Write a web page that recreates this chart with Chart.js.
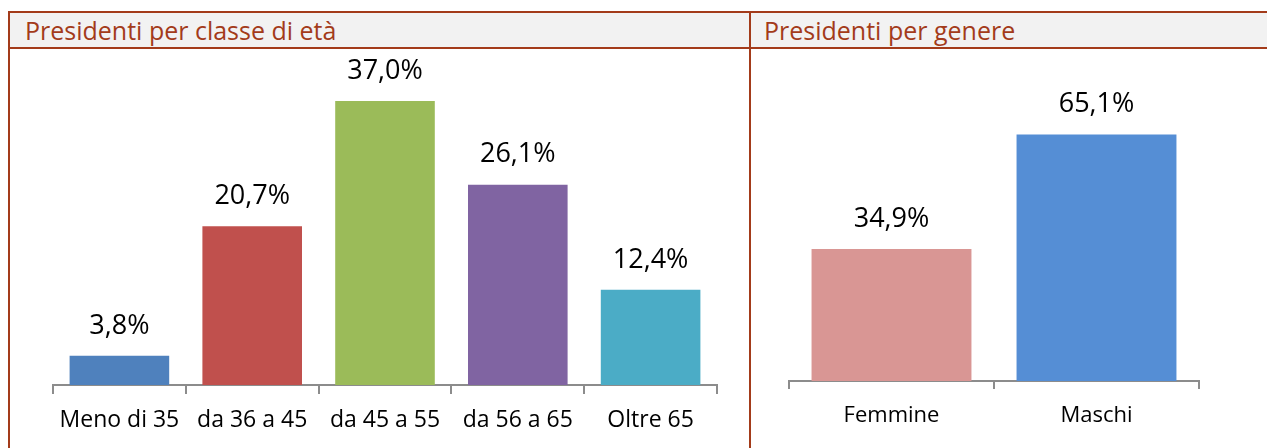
<!DOCTYPE html>
<html>
<head>
<meta charset="utf-8">
<script src="https://cdn.jsdelivr.net/npm/chart.js@4"></script>
<style>
  html, body { margin: 0; padding: 0; background: #fff; }
  body { width: 1267px; height: 448px; position: relative; overflow: hidden; font-family: "Open Sans", sans-serif; }
  .header { position: absolute; left: 8px; top: 11px; width: 1259px; height: 34px;
            background: #f2f2f2; border-top: 2px solid #a33b1a; border-bottom: 2px solid #a33b1a; }
  .vline { position: absolute; top: 11px; width: 2px; height: 437px; background: #a33b1a; }
  .title { position: absolute; top: 13px; height: 34px; line-height: 34px; font-size: 25px; color: #a33b1a; }
  .box { position: absolute; top: 48px; height: 400px; }
</style>
</head>
<body>
<div class="header"></div>
<div class="vline" style="left:8px"></div>
<div class="vline" style="left:749px"></div>
<div class="title" style="left:25px">Presidenti per classe di età</div>
<div class="title" style="left:764px">Presidenti per genere</div>
<div class="box" style="left:10px;width:738px"><canvas id="ageChart"></canvas></div>
<div class="box" style="left:752px;width:515px"><canvas id="genderChart"></canvas></div>

<script>
const ageLabels = ['Meno di 35', 'da 36 a 45', 'da 45 a 55', 'da 56 a 65', 'Oltre 65'];
const ageValues = [3.8, 20.7, 37.0, 26.1, 12.4];
const ageColors = ['#4f81bd', '#c0504d', '#9bbb59', '#8064a2', '#4bacc6'];

const genderLabels = ['Femmine', 'Maschi'];
const genderValues = [34.9, 65.1];
const genderColors = ['#d99694', '#558ed5'];

// writes the "37,0%" style label above each bar
const valueLabels = {
    id: 'valueLabels',
    afterDatasetsDraw(chart) {
        const ctx = chart.ctx;
        const meta = chart.getDatasetMeta(0);
        ctx.save();
        ctx.font = '27px "Open Sans"';
        ctx.fillStyle = '#000';
        ctx.textAlign = 'center';
        ctx.textBaseline = 'middle';
        meta.data.forEach((bar, i) => {
            const v = chart.data.datasets[0].data[i];
            ctx.fillText(v.toFixed(1).replace('.', ',') + '%', bar.x, bar.y - 30);
        });
        ctx.restore();
    }
};

function makeChart(id, labels, values, colors, opts) {
    return new Chart(document.getElementById(id), {
        type: 'bar',
        data: {
            labels: labels,
            datasets: [{
                data: values,
                backgroundColor: colors,
                borderWidth: 0,
                categoryPercentage: 1,
                barPercentage: opts.barPct
            }]
        },
        options: {
            responsive: true,
            maintainAspectRatio: false,
            animation: false,
            layout: { padding: opts.padding },
            plugins: { legend: { display: false }, tooltip: { enabled: false } },
            scales: {
                y: { display: false, min: 0, max: opts.yMax },
                x: {
                    afterFit(scale) { scale.height = opts.axisHeight; },
                    border: { display: true, color: '#8c8c8c', width: 2 },
                    grid: {
                        offset: true,
                        drawOnChartArea: false,
                        drawTicks: true,
                        tickLength: opts.tickLen,
                        color: '#8c8c8c',
                        lineWidth: 2
                    },
                    ticks: {
                        color: '#000',
                        padding: opts.tickPad,
                        font: { family: 'Open Sans', size: opts.fontSize }
                    }
                }
            }
        },
        plugins: [valueLabels]
    });
}

makeChart('ageChart', ageLabels, ageValues, ageColors, {
    barPct: 0.75, yMax: 40, axisHeight: 63, tickLen: 9, tickPad: 13, fontSize: 23,
    padding: { left: 43, right: 31, top: 30, bottom: 0 }
});
makeChart('genderChart', genderLabels, genderValues, genderColors, {
    barPct: 0.78, yMax: 70, axisHeight: 67, tickLen: 8, tickPad: 14, fontSize: 22,
    padding: { left: 37, right: 68, top: 68, bottom: 0 }
});
</script>
</body>
</html>
